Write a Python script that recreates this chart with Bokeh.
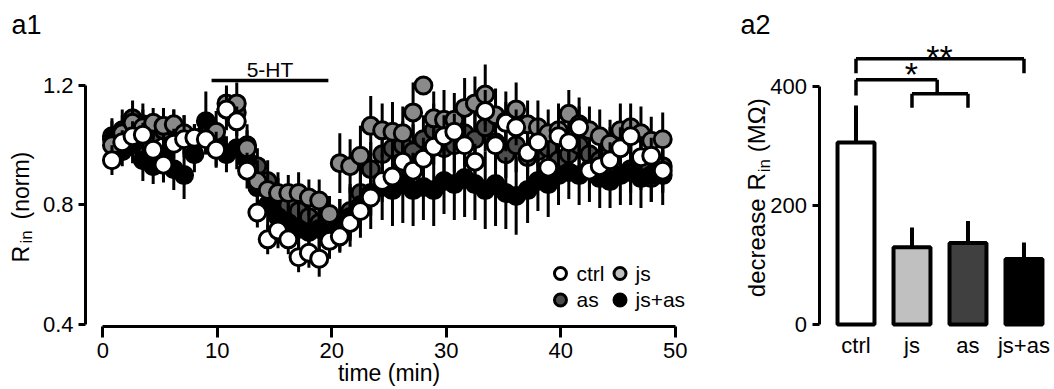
import math
from bokeh.plotting import figure
from bokeh.models import ColumnDataSource, Label, FixedTicker, Range1d
from bokeh.layouts import row
from bokeh.embed import file_html
from bokeh.resources import INLINE

FONT = "Liberation Sans"

# ---------------- data: panel a1 ----------------
time_min = [0.8, 1.7, 2.6, 3.5, 4.4, 5.3, 6.2, 7.1, 8.0,
            9.0, 9.9, 10.8, 11.7, 12.6, 13.5, 14.4, 15.3, 16.2,
            17.1, 18.0, 18.9, 19.8, 20.7, 21.6, 22.5, 23.4, 24.4,
            25.3, 26.2, 27.1, 28.0, 28.9, 29.8, 30.7, 31.6, 32.5,
            33.4, 34.3, 35.2, 36.1, 37.1, 38.0, 38.9, 39.8, 40.7,
            41.6, 42.5, 43.4, 44.3, 45.2, 46.1, 47.0, 47.9, 48.9]

ctrl = [0.95, 1.01, 1.03, 1.035, 0.985, 0.935, 1.005, 1.02, 1.025,
        1.02, 0.985, 1.12, 1.08, 0.915, 0.775, 0.685, 0.715, 0.685,
        0.625, 0.64, 0.62, 0.68, 0.695, 0.74, 0.78, 0.825, 0.88,
        0.895, 0.945, 0.915, 0.955, 0.995, 1.03, 1.045, 1.0, 0.945,
        1.115, 1.0, 1.075, 1.06, 0.975, 1.01, 0.925, 1.03, 1.01,
        1.06, 0.915, 0.93, 0.95, 0.99, 1.03, 0.96, 0.965, 0.915]
ctrl_err = [0.05, 0.04, 0.05, 0.04, 0.05, 0.06, 0.05, 0.05, 0.04,
            0.05, 0.06, 0.05, 0.05, 0.06, 0.05, 0.05, 0.06, 0.05,
            0.05, 0.05, 0.06, 0.05, 0.05, 0.06, 0.05, 0.06, 0.07,
            0.06, 0.07, 0.06, 0.07, 0.06, 0.07, 0.06, 0.07, 0.06,
            0.07, 0.06, 0.07, 0.06, 0.07, 0.08, 0.06, 0.07, 0.06,
            0.07, 0.06, 0.07, 0.06, 0.07, 0.06, 0.07, 0.06, 0.07]

js = [1.0, 1.04, 1.075, 1.06, 1.075, 1.065, 1.07, 1.04, 1.02,
      1.03, 1.045, 1.14, 1.14, 0.99, 0.88, 0.85, 0.84, 0.84,
      0.84, 0.825, 0.815, 0.77, 0.94, 0.93, 0.965, 1.065, 1.05,
      1.045, 1.04, 1.11, 1.2, 1.09, 1.085, 1.085, 1.125, 1.14,
      1.17, 1.1, 1.08, 1.12, 1.07, 1.06, 1.04, 1.05, 1.105,
      1.07, 1.05, 1.03, 1.005, 1.05, 1.06, 1.04, 1.015, 1.02]
js_err = [0.05, 0.06, 0.05, 0.06, 0.05, 0.06, 0.05, 0.06, 0.05,
          0.06, 0.07, 0.06, 0.07, 0.06, 0.07, 0.06, 0.07, 0.06,
          0.07, 0.06, 0.07, 0.06, 0.10, 0.09, 0.10, 0.10, 0.09,
          0.10, 0.09, 0.10, 0.03, 0.09, 0.10, 0.09, 0.10, 0.09,
          0.10, 0.09, 0.10, 0.09, 0.08, 0.09, 0.08, 0.09, 0.08,
          0.09, 0.08, 0.09, 0.08, 0.09, 0.08, 0.09, 0.08, 0.09]

as_ = [1.02, 1.05, 1.09, 1.07, 1.04, 1.05, 1.06, 1.03, 1.01,
       1.04, 1.02, 1.12, 1.11, 1.0, 0.93, 0.88, 0.83, 0.8,
       0.78, 0.76, 0.74, 0.72, 0.74, 0.78, 0.84, 0.92, 0.97,
       0.99, 1.0, 0.98, 1.02, 1.05, 0.99, 1.0, 1.04, 1.02,
       1.06, 1.01, 0.97, 1.0, 0.96, 0.98, 0.99, 0.95, 0.97,
       1.0, 0.97, 0.95, 0.98, 0.99, 0.92, 0.94, 0.89, 0.93]
as_err = [0.06, 0.07, 0.06, 0.07, 0.06, 0.07, 0.06, 0.07, 0.06,
          0.07, 0.06, 0.07, 0.06, 0.07, 0.06, 0.07, 0.06, 0.07,
          0.06, 0.07, 0.06, 0.07, 0.08, 0.09, 0.08, 0.09, 0.08,
          0.09, 0.08, 0.09, 0.08, 0.09, 0.08, 0.09, 0.08, 0.09,
          0.08, 0.09, 0.08, 0.09, 0.08, 0.09, 0.08, 0.09, 0.08,
          0.09, 0.08, 0.09, 0.08, 0.09, 0.08, 0.09, 0.08, 0.09]

jsas = [1.03, 0.98, 1.0, 0.95, 0.93, 0.96, 0.92, 0.9, 0.97,
        1.08, 1.0, 0.97, 0.99, 0.95, 0.86, 0.8, 0.76, 0.74,
        0.72, 0.71, 0.72, 0.7, 0.73, 0.76, 0.8, 0.84, 0.86,
        0.85, 0.87, 0.85, 0.86, 0.85, 0.88, 0.87, 0.89, 0.87,
        0.85, 0.87, 0.84, 0.83, 0.85, 0.88, 0.87, 0.9, 0.91,
        0.9, 0.92, 0.89, 0.88, 0.9, 0.91, 0.89, 0.9, 0.9]
jsas_err = [0.06, 0.05, 0.06, 0.07, 0.06, 0.08, 0.07, 0.08, 0.06,
            0.10, 0.07, 0.06, 0.07, 0.06, 0.07, 0.08, 0.07, 0.08,
            0.07, 0.08, 0.07, 0.08, 0.09, 0.10, 0.11, 0.12, 0.11,
            0.12, 0.13, 0.12, 0.11, 0.12, 0.11, 0.12, 0.13, 0.12,
            0.13, 0.14, 0.12, 0.13, 0.11, 0.10, 0.11, 0.10, 0.09,
            0.10, 0.11, 0.10, 0.09, 0.10, 0.11, 0.10, 0.09, 0.10]

drug_window = [9.5, 19.7]   # 5-HT application (min)
x_ticks_a1 = [0, 10, 20, 30, 40, 50]
y_ticks_a1 = [0.4, 0.8, 1.2]

# ---------------- data: panel a2 ----------------
groups = ["ctrl", "js", "as", "js+as"]
decrease = [306, 130, 137, 110]
decrease_err = [62, 33, 37, 28]
y_ticks_a2 = [0, 200, 400]

SCAT_COLORS = {"ctrl": "white", "js": "#8a8a8a", "as": "#4d4d4d", "js+as": "black"}
LEG_COLORS = {"ctrl": "white", "js": "#c0c0c0", "as": "#4a4a4a", "js+as": "black"}
BAR_COLORS = ["white", "#c0c0c0", "#404040", "black"]

for arr in (ctrl, ctrl_err, js, js_err, as_, as_err, jsas, jsas_err):
    assert len(arr) == len(time_min), len(arr)


def style_axis(ax, size="22px"):
    ax.axis_line_width = 3
    ax.axis_line_color = "black"
    ax.major_tick_line_width = 3
    ax.major_tick_line_color = "black"
    ax.major_tick_in = 0
    ax.minor_tick_line_color = None
    ax.major_label_text_font = FONT
    ax.major_label_text_font_size = size
    ax.major_label_text_color = "black"


def lab(p, x, y, text, size, angle=0.0, align="left"):
    p.add_layout(Label(x=x, y=y, text=text, angle=angle, text_align=align,
                       text_baseline="middle", text_font=FONT,
                       text_font_size=size, text_color="black"))


def bare(p):
    p.outline_line_color = None
    p.xgrid.visible = False
    p.ygrid.visible = False
    p.background_fill_color = "white"
    p.border_fill_color = "white"


# ================= panel a1 =================
p1 = figure(width=700, height=389, x_range=Range1d(-8.934, 52.2),
            y_range=Range1d(0.1824, 1.4845), output_backend="svg",
            toolbar_location=None, min_border=0)
bare(p1)
style_axis(p1.xaxis[0])
style_axis(p1.yaxis[0])
p1.xaxis.ticker = FixedTicker(ticks=x_ticks_a1)
p1.yaxis.ticker = FixedTicker(ticks=y_ticks_a1)
p1.xaxis.bounds = (x_ticks_a1[0], x_ticks_a1[-1])
p1.yaxis.bounds = (y_ticks_a1[0], y_ticks_a1[-1])
p1.xaxis.fixed_location = 0.3933
p1.yaxis.fixed_location = -1.511
p1.xaxis.major_tick_out = 11
p1.yaxis.major_tick_out = 7
p1.xaxis.major_label_standoff = 6
p1.yaxis.major_label_standoff = 5

series = [("as", as_, as_err), ("js+as", jsas, jsas_err),
          ("js", js, js_err), ("ctrl", ctrl, ctrl_err)]
for name, vals, errs in series:
    src = ColumnDataSource(dict(
        t=time_min, v=vals,
        lo=[v - e for v, e in zip(vals, errs)],
        hi=[v + e for v, e in zip(vals, errs)]))
    p1.segment(x0="t", y0="lo", x1="t", y1="hi", source=src,
               line_color="black", line_width=3)
    p1.scatter(x="t", y="v", source=src, marker="circle", size=17,
               fill_color=SCAT_COLORS[name], line_color="black", line_width=3)

# 5-HT bar
p1.segment(x0=[drug_window[0]], y0=[1.2167], x1=[drug_window[1]], y1=[1.2167],
           line_color="black", line_width=3.5)
lab(p1, (drug_window[0] + drug_window[1]) / 2, 1.2546, "5-HT", "21px", align="center")

# legend
leg = [("ctrl", 39.97, 0.5707, 41.37),
       ("js", 45.17, 0.5707, 46.52),
       ("as", 39.97, 0.482, 41.37),
       ("js+as", 45.17, 0.482, 46.52)]
for name, cx, cy, tx in leg:
    p1.scatter([cx], [cy], marker="circle", size=12, fill_color=LEG_COLORS[name],
               line_color="black", line_width=3)
    lab(p1, tx, cy, name, "21px")

# axis labels / panel label
lab(p1, 25.0, 0.236, "time (min)", "23px", align="center")
lab(p1, -7.16, 0.6075, "R", "23px", angle=math.pi / 2)
lab(p1, -6.63, 0.671, "in", "17px", angle=math.pi / 2)
lab(p1, -7.16, 0.7515, "(norm)", "23px", angle=math.pi / 2)
lab(p1, -7.97, 1.4038, "a1", "27px")

# ================= panel a2 =================
bar_x = list(range(len(groups)))
p2 = figure(width=354, height=389, x_range=Range1d(-2.777, 3.545),
            y_range=Range1d(-109.2, 544.5), output_backend="svg",
            toolbar_location=None, min_border=0)
bare(p2)
style_axis(p2.yaxis[0])
p2.yaxis.ticker = FixedTicker(ticks=y_ticks_a2)
p2.yaxis.bounds = (y_ticks_a2[0], y_ticks_a2[-1])
p2.yaxis.fixed_location = -0.643
p2.yaxis.major_tick_out = 7
p2.yaxis.major_label_standoff = 6

xa = p2.xaxis[0]
style_axis(xa)
xa.axis_line_color = None
xa.major_tick_line_color = None
xa.major_tick_out = 0
xa.major_label_standoff = 6
xa.fixed_location = -3.36
xa.ticker = FixedTicker(ticks=bar_x)
xa.major_label_overrides = {i: g for i, g in zip(bar_x, groups)}

src2 = ColumnDataSource(dict(x=bar_x, top=decrease,
                             hi=[d + e for d, e in zip(decrease, decrease_err)],
                             color=BAR_COLORS))
p2.segment(x0="x", y0="top", x1="x", y1="hi", source=src2,
           line_color="black", line_width=4)
p2.vbar(x="x", top="top", bottom=0, width=0.66, source=src2,
        fill_color="color", line_color="black", line_width=4)

# significance brackets
br_x0 = [0, 0, 3, 0, 0, 1.45, 1, 1, 2]
br_y0 = [446.6, 446.6, 446.6, 411.3, 411.3, 411.3, 387.7, 387.7, 387.7]
br_x1 = [3, 0, 3, 1.45, 0, 1.45, 2, 1, 2]
br_y1 = [446.6, 422.4, 422.4, 411.3, 385.0, 387.7, 387.7, 364.2, 364.2]
p2.segment(x0=br_x0, y0=br_y0, x1=br_x1, y1=br_y1, line_color="black",
           line_width=3.5)
lab(p2, 1.49, 449.5, "**", "34px", align="center")
lab(p2, 0.99, 421.5, "*", "34px", align="center")

lab(p2, -1.782, 45.9, "decrease", "24px", angle=math.pi / 2)
lab(p2, -1.782, 225.2, "R", "24px", angle=math.pi / 2)
lab(p2, -1.632, 256.0, "in", "17px", angle=math.pi / 2)
lab(p2, -1.782, 289.6, "(M\u03a9)", "24px", angle=math.pi / 2)
lab(p2, -2.0625, 504.0, "a2", "27px")

layout = row(p1, p2)
open("out.html", "w").write(file_html(layout, INLINE))
